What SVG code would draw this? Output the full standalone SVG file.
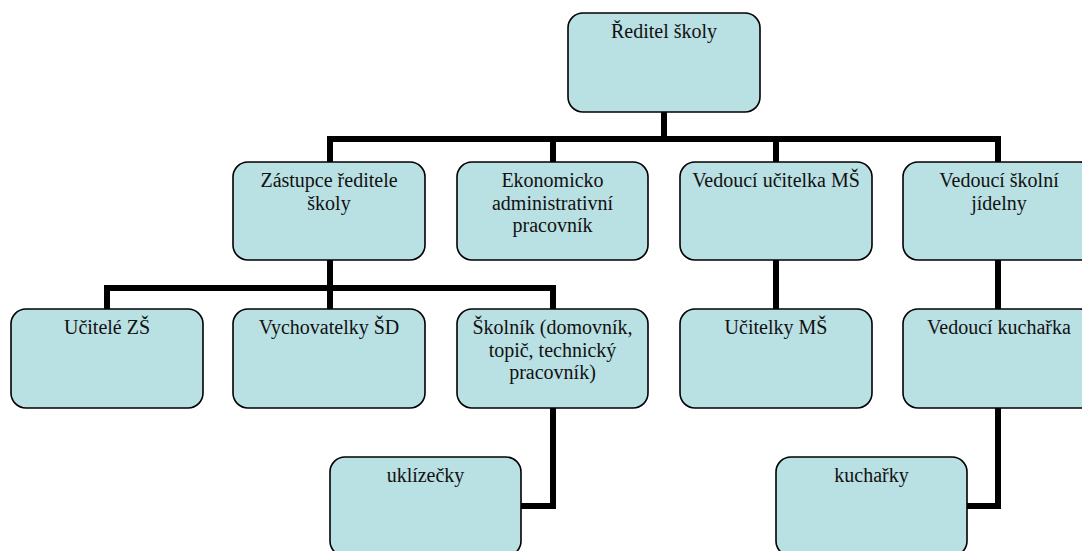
<svg xmlns="http://www.w3.org/2000/svg" width="1082" height="551" viewBox="0 0 1082 551">
<style>
.box{fill:#B9E0E3;stroke:#000;stroke-width:1.6}
.lbl{font-family:"Liberation Serif","Times New Roman",serif;font-size:20px;fill:#111;text-anchor:middle}
.conn{fill:none;stroke:#000;stroke-width:6;stroke-linejoin:miter;stroke-linecap:butt}
</style>
<rect width="1082" height="551" fill="#fff"/>
<g id="connectors" class="conn">
<polyline points="664,112 664,139"/>
<polyline points="330,162 330,139 998,139 998,162"/>
<polyline points="553,139 553,162"/>
<polyline points="776,139 776,162"/>
<polyline points="330,260 330,309"/>
<polyline points="107,309 107,288 553,288 553,309"/>
<polyline points="776,260 776,309"/>
<polyline points="998,260 998,309"/>
<polyline points="553,408 553,506 521,506"/>
<polyline points="998,408 998,506 967,506"/>
</g>
<g id="reditel"><rect class="box" x="568" y="13" width="192" height="99" rx="15"/><text class="lbl" x="664" y="38">Ředitel školy</text></g>
<g id="zastupce"><rect class="box" x="233" y="162" width="192" height="98" rx="15"/><text class="lbl" x="329" y="187">Zástupce ředitele<tspan x="329" dy="22.5">školy</tspan></text></g>
<g id="ekonom"><rect class="box" x="457" y="162" width="191" height="98" rx="15"/><text class="lbl" x="552.5" y="187">Ekonomicko<tspan x="552.5" dy="22.5">administrativní</tspan><tspan x="552.5" dy="22.5">pracovník</tspan></text></g>
<g id="vedouci-ucitelka"><rect class="box" x="680" y="162" width="192" height="98" rx="15"/><text class="lbl" x="776" y="187">Vedoucí učitelka MŠ</text></g>
<g id="vedouci-jidelny"><rect class="box" x="903" y="162" width="192" height="98" rx="15"/><text class="lbl" x="999" y="187">Vedoucí školní<tspan x="999" dy="22.5">jídelny</tspan></text></g>
<g id="ucitele-zs"><rect class="box" x="11" y="309" width="192" height="99" rx="15"/><text class="lbl" x="107" y="334">Učitelé ZŠ</text></g>
<g id="vychovatelky"><rect class="box" x="233" y="309" width="192" height="99" rx="15"/><text class="lbl" x="329" y="334">Vychovatelky ŠD</text></g>
<g id="skolnik"><rect class="box" x="457" y="309" width="191" height="99" rx="15"/><text class="lbl" x="552.5" y="334">Školník (domovník,<tspan x="552.5" dy="22.5">topič, technický</tspan><tspan x="552.5" dy="22.5">pracovník)</tspan></text></g>
<g id="ucitelky-ms"><rect class="box" x="680" y="309" width="192" height="99" rx="15"/><text class="lbl" x="776" y="334">Učitelky MŠ</text></g>
<g id="vedouci-kucharka"><rect class="box" x="903" y="309" width="192" height="99" rx="15"/><text class="lbl" x="999" y="334">Vedoucí kuchařka</text></g>
<g id="uklizecky"><rect class="box" x="330" y="457" width="191" height="99" rx="15"/><text class="lbl" x="425.5" y="482">uklízečky</text></g>
<g id="kucharky"><rect class="box" x="776" y="457" width="191" height="99" rx="15"/><text class="lbl" x="871.5" y="482">kuchařky</text></g>
</svg>
